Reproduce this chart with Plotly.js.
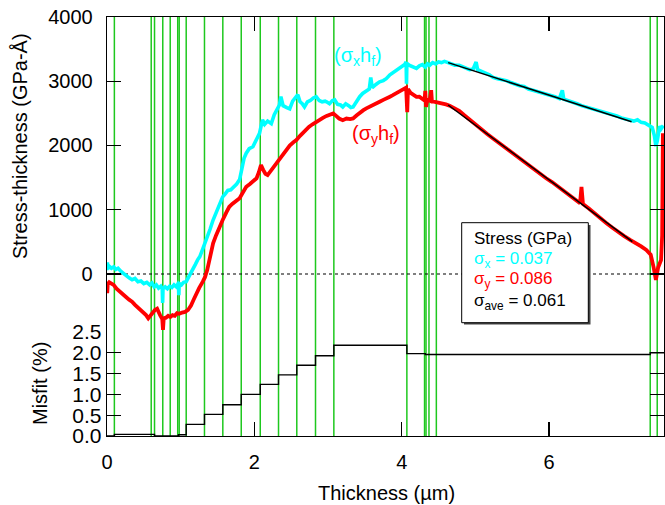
<!DOCTYPE html>
<html><head><meta charset="utf-8">
<script src="https://cdn.plot.ly/plotly-3.0.1.min.js"></script>
<style>html,body{margin:0;padding:0;background:#fff}#chart{width:665px;height:505px}</style>
</head><body><div id="chart"></div><script>
// ---- data ----
const cyanX = [0.00,0.005,0.015,0.03,0.06,0.09,0.12,0.15,0.19,0.22,0.26,0.30,0.34,0.38,0.42,0.46,0.50,0.54,0.58,0.61,0.64,0.67,0.70,0.73,0.75,0.755,0.76,0.79,0.82,0.85,0.88,0.91,0.94,0.97,0.975,0.98,1.01,1.04,1.075,1.10,1.13,1.16,1.20,1.23,1.26,1.30,1.35,1.40,1.44,1.48,1.52,1.57,1.60,1.64,1.68,1.72,1.76,1.80,1.83,1.86,1.89,1.93,1.98,2.02,2.07,2.11,2.14,2.18,2.23,2.27,2.31,2.34,2.36,2.39,2.44,2.48,2.52,2.56,2.59,2.62,2.65,2.68,2.72,2.76,2.80,2.84,2.88,2.92,2.96,2.98,3.02,3.06,3.09,3.13,3.17,3.20,3.24,3.28,3.31,3.34,3.38,3.43,3.47,3.52,3.56,3.58,3.60,3.65,3.70,3.75,3.79,3.84,3.88,3.93,3.97,4.01,4.04,4.06,4.065,4.07,4.10,4.15,4.20,4.24,4.28,4.32,4.35,4.38,4.42,4.46,4.50,4.54,4.58,4.63,4.68,4.72,4.78,4.82,4.87,4.92,4.97,5.01,5.03,5.08,5.13,5.19,5.24,5.30,5.36,5.42,5.48,5.54,5.60,5.66,5.72,5.78,5.84,5.90,5.96,6.02,6.08,6.14,6.18,6.20,6.26,6.32,6.38,6.44,6.50,6.56,6.62,6.68,6.74,6.80,6.86,6.92,6.98,7.04,7.10,7.15,7.20,7.25,7.30,7.36,7.40,7.43,7.45,7.47,7.50,7.52,7.55];
const cyanY = [60,180,80,120,90,110,70,90,40,10,-30,-60,-90,-70,-120,-110,-150,-130,-170,-140,-200,-170,-220,-190,-230,-450,-230,-200,-230,-190,-210,-170,-200,-140,-330,-150,-170,-130,-120,-60,0,60,150,220,270,390,530,700,840,960,1080,1200,1240,1300,1310,1350,1400,1470,1650,1800,1880,1950,1980,2080,2190,2400,2330,2380,2340,2480,2560,2630,2760,2620,2590,2570,2690,2740,2790,2680,2650,2600,2680,2700,2740,2760,2700,2680,2690,2680,2650,2700,2710,2640,2630,2600,2650,2620,2590,2600,2680,2760,2810,2850,2880,3060,2900,2950,2990,3010,3040,3100,3130,3170,3200,3230,3260,3300,2960,3280,3250,3220,3200,3240,3260,3220,3270,3250,3290,3270,3300,3290,3310,3290,3270,3250,3250,3230,3200,3180,3190,3300,3180,3150,3130,3100,3060,3040,3030,3010,2980,2950,2930,2920,2880,2860,2840,2830,2800,2790,2760,2730,2860,2720,2700,2680,2650,2620,2600,2590,2560,2540,2530,2500,2490,2460,2430,2410,2400,2380,2400,2360,2350,2300,2280,2150,1990,2080,2300,2260,2310];

const redX = [0.00,0.003,0.01,0.03,0.06,0.09,0.13,0.17,0.21,0.25,0.30,0.34,0.38,0.42,0.46,0.50,0.53,0.56,0.59,0.62,0.65,0.68,0.70,0.72,0.75,0.76,0.77,0.80,0.83,0.86,0.89,0.92,0.95,0.98,1.02,1.06,1.10,1.14,1.18,1.21,1.25,1.30,1.33,1.36,1.40,1.44,1.48,1.52,1.57,1.62,1.66,1.70,1.75,1.80,1.84,1.89,1.94,1.99,2.03,2.06,2.09,2.12,2.15,2.18,2.22,2.26,2.30,2.34,2.39,2.43,2.48,2.53,2.57,2.62,2.66,2.70,2.74,2.79,2.84,2.89,2.93,2.98,3.02,3.07,3.11,3.15,3.20,3.25,3.30,3.34,3.39,3.43,3.48,3.52,3.57,3.61,3.66,3.70,3.75,3.79,3.84,3.88,3.93,3.97,4.01,4.04,4.06,4.075,4.085,4.12,4.16,4.20,4.24,4.28,4.31,4.32,4.33,4.35,4.38,4.40,4.41,4.45,4.50,4.56,4.60,4.65,4.70,4.78,4.85,4.92,5.00,5.08,5.16,5.24,5.32,5.40,5.48,5.56,5.64,5.72,5.80,5.88,5.96,6.04,6.12,6.20,6.28,6.36,6.42,6.44,6.46,6.54,6.62,6.70,6.78,6.86,6.94,7.02,7.10,7.18,7.25,7.32,7.38,7.42,7.45,7.48,7.52,7.535,7.545];
const redY = [-120,-300,-160,-130,-145,-170,-230,-275,-310,-350,-400,-430,-480,-520,-560,-600,-640,-690,-640,-590,-560,-540,-600,-640,-700,-870,-690,-680,-650,-670,-640,-650,-610,-620,-600,-590,-560,-490,-390,-300,-220,-120,-50,60,250,477,600,720,840,960,1046,1090,1130,1180,1260,1357,1400,1450,1490,1580,1695,1620,1560,1540,1600,1670,1740,1800,1870,1940,2000,2050,2084,2150,2200,2240,2290,2330,2370,2400,2430,2460,2480,2500,2460,2420,2395,2420,2410,2421,2470,2510,2550,2577,2610,2630,2660,2680,2710,2740,2760,2783,2820,2850,2870,2888,2900,2520,2880,2820,2780,2757,2760,2720,2700,2850,2600,2720,2700,2860,2690,2680,2670,2654,2640,2620,2590,2540,2470,2400,2320,2250,2180,2110,2040,1980,1900,1830,1760,1700,1620,1560,1490,1430,1360,1290,1230,1160,1100,1357,1090,1020,940,860,790,720,650,590,530,480,430,373,300,100,-93,100,218,600,2190];

const fitX = [4.63, 7.12];
const fitCyanY = [3290, 2370];
const fitRedX = [4.63, 7.13];
const fitRedY = [2630, 505];

const misfitX = [0, 0.10, 0.645, 0.97, 1.075, 1.323, 1.572, 1.822, 2.08, 2.328, 2.576, 2.83, 3.079, 4.07, 4.32, 7.373, 7.56];
const misfitY = [0, 0.04, 0.0, 0.03, 0.28, 0.52, 0.75, 1.0, 1.24, 1.47, 1.70, 1.93, 2.18, 1.98, 1.96, 2.0, 2.0];

const layerX = [0.10, 0.60, 0.645, 0.757, 0.858, 0.96, 0.98, 1.075, 1.323, 1.572, 1.822, 2.08, 2.328, 2.576, 2.83, 3.079, 4.07, 4.31, 4.33, 4.37, 4.47, 7.373, 7.468];

const xTicks = [0, 2, 4, 6];
const yTicks = [0, 1000, 2000, 3000, 4000];
const misfitTicks = [0, 0.5, 1.0, 1.5, 2.0, 2.5];

const stressLabels = ['Stress (GPa)', 'σ<sub>x</sub> = 0.037', 'σ<sub>y</sub> = 0.086', 'σ<sub>ave</sub> = 0.061'];
const stressColors = ['#000000', '#00ffff', '#ff0000', '#000000'];

// ---- chart ----
const FONT = 'Liberation Sans, Arial, sans-serif';
const CYAN = '#00ffff', RED = '#ff0000', GREEN = '#1ec81e';

const traces = [
  {x: cyanX, y: cyanY, xaxis: 'x2', yaxis: 'y', mode: 'lines', line: {color: CYAN, width: 3.6}},
  {x: redX, y: redY, xaxis: 'x2', yaxis: 'y', mode: 'lines', line: {color: RED, width: 3.8}},
  {x: fitX, y: fitCyanY, xaxis: 'x2', yaxis: 'y', mode: 'lines', line: {color: '#000', width: 1.5}},
  {x: fitRedX, y: fitRedY, xaxis: 'x2', yaxis: 'y', mode: 'lines', line: {color: '#000', width: 1.5}},
  {x: misfitX, y: misfitY, xaxis: 'x', yaxis: 'y2', mode: 'lines', line: {color: '#000', width: 1.4, shape: 'hv'}}
];

const split = 104 / 419;
const axCommon = {showgrid: false, zeroline: false, showline: true, linecolor: '#000', linewidth: 1.3,
  ticks: 'inside', ticklen: 14, tickwidth: 1.2, tickcolor: '#000',
  tickfont: {family: FONT, size: 20, color: '#000'}};

const shapes = [];
layerX.forEach(v => shapes.push({type: 'line', xref: 'x', yref: 'paper', x0: v, x1: v, y0: 0, y1: 1,
  layer: 'below', line: {color: GREEN, width: 1.5}}));
shapes.push({type: 'line', xref: 'paper', yref: 'y', x0: 0, x1: 1, y0: 0, y1: 0, layer: 'below',
  line: {color: '#000', width: 1.2, dash: '3px,3px'}});
// legend box shadow + box (paper coords)
const px = p => (p - 107) / 557, py = p => (436 - p) / 419;
shapes.push({type: 'rect', xref: 'paper', yref: 'paper', x0: px(464), x1: px(590.5), y0: py(324.5), y1: py(225),
  layer: 'above', fillcolor: '#444', line: {width: 0}});
shapes.push({type: 'rect', xref: 'paper', yref: 'paper', x0: px(461.7), x1: px(588.3), y0: py(322.7), y1: py(222.7),
  layer: 'above', fillcolor: '#fff', line: {color: '#000', width: 1}});

const annotations = [
  {text: '(σ<sub>x</sub>h<sub>f</sub>)', x: px(358), y: py(57), xref: 'paper', yref: 'paper', showarrow: false,
   font: {family: FONT, size: 20, color: CYAN}, xanchor: 'center', yanchor: 'middle'},
  {text: '(σ<sub>y</sub>h<sub>f</sub>)', x: px(376), y: py(134), xref: 'paper', yref: 'paper', showarrow: false,
   font: {family: FONT, size: 20, color: RED}, xanchor: 'center', yanchor: 'middle'},
  {text: 'Stress-thickness (GPa-Å)', x: px(20), y: py(146), xref: 'paper', yref: 'paper', showarrow: false,
   textangle: -90, font: {family: FONT, size: 20, color: '#000'}, xanchor: 'center', yanchor: 'middle'},
  {text: 'Misfit (%)', x: px(40), y: py(384), xref: 'paper', yref: 'paper', showarrow: false,
   textangle: -90, font: {family: FONT, size: 20, color: '#000'}, xanchor: 'center', yanchor: 'middle'},
  {text: 'Thickness (µm)', x: px(386), y: py(493), xref: 'paper', yref: 'paper', showarrow: false,
   font: {family: FONT, size: 20, color: '#000'}, xanchor: 'center', yanchor: 'middle'}
];
const legendY = [238.3, 260, 280, 301.7];
stressLabels.forEach((t, i) => annotations.push({text: t, x: px(472), y: py(legendY[i]), xref: 'paper', yref: 'paper',
  showarrow: false, xanchor: 'left', yanchor: 'middle', font: {family: FONT, size: 17, color: stressColors[i]}}));

const layout = {
  width: 665, height: 505,
  margin: {l: 107, r: 1, t: 17, b: 69, pad: 0},
  paper_bgcolor: '#fff', plot_bgcolor: 'rgba(0,0,0,0)',
  showlegend: false,
  font: {family: FONT, size: 20, color: '#000'},
  xaxis: Object.assign({}, axCommon, {domain: [0, 1], anchor: 'y2', range: [0, 7.56], tickvals: xTicks,
    ticktext: xTicks.map(String), ticklabelstandoff: 8}),
  xaxis2: Object.assign({}, axCommon, {domain: [0, 1], anchor: 'y', side: 'top', matches: 'x', range: [0, 7.56],
    tickvals: xTicks, showticklabels: false}),
  yaxis: Object.assign({}, axCommon, {domain: [split, 1], anchor: 'x2', range: [-903, 4000], tickvals: yTicks,
    ticktext: yTicks.map(String), mirror: 'ticks', ticklabelstandoff: 9}),
  yaxis2: Object.assign({}, axCommon, {domain: [0, split], anchor: 'x', range: [0, 2.5], tickvals: misfitTicks,
    ticktext: misfitTicks.map(v => v.toFixed(1)), mirror: 'ticks', ticklabelstandoff: 0,
    tickfont: {family: FONT, size: 21, color: '#000'}}),
  shapes: shapes,
  annotations: annotations
};

Plotly.newPlot('chart', traces, layout, {displayModeBar: false, staticPlot: true});
</script></body></html>
